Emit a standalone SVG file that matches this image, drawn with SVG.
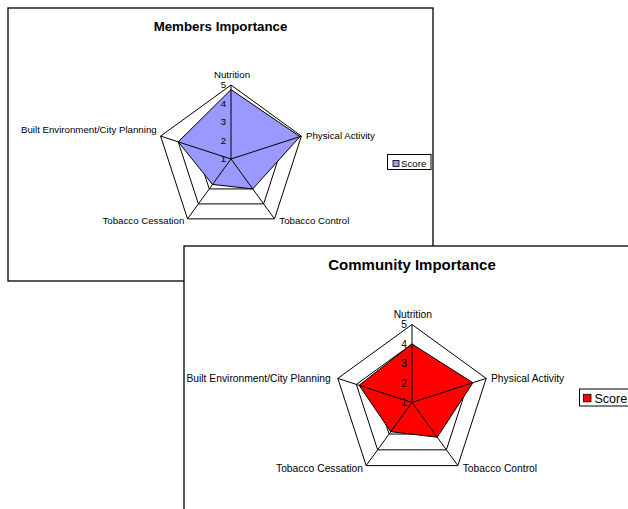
<svg xmlns="http://www.w3.org/2000/svg" width="628" height="509" viewBox="0 0 628 509">
<style>
.frame{fill:#fff;stroke:#000;stroke-width:1.3}
.ring{fill:none;stroke:#000;stroke-width:1}
.spoke{stroke:#000;stroke-width:1}
.s1{fill:#9999FF;stroke:#000;stroke-width:1}
.s2{fill:#FF0000;stroke:#000;stroke-width:1}
text{font-family:"Liberation Sans",Arial,sans-serif;fill:#000}
.t1{font-size:13.3px;font-weight:bold}
.t2{font-size:15px;font-weight:bold}
.l1{font-size:9.7px}
.l2{font-size:10.3px}
.v1{font-size:9.6px;text-anchor:end}
.v2{font-size:10.3px;text-anchor:end}
.leg{fill:#fff;stroke:#000;stroke-width:1}
.sw{stroke:#000;stroke-width:0.8}
</style>
<g id="chart-members">
<rect class="frame" x="8" y="8" width="425" height="273"/>
<text class="t1" x="220.5" y="30.5" text-anchor="middle">Members Importance</text>
<g id="members-grid">
<polygon class="ring" points="231,85 301.38,136.13 274.5,218.87 187.5,218.87 160.62,136.13"/>
<polygon class="ring" points="231,103.5 283.78,141.85 263.62,203.9 198.38,203.9 178.22,141.85"/>
<polygon class="ring" points="231,122 266.19,147.57 252.75,188.93 209.25,188.93 195.81,147.57"/>
<polygon class="ring" points="231,140.5 248.59,153.28 241.87,173.97 220.13,173.97 213.41,153.28"/>
</g>
<polygon id="members-series" class="s1" points="231,89.6 299.95,136.6 252.75,188.93 212.51,184.44 178.22,141.85"/>
<g id="members-spokes">
<line class="spoke" x1="231" y1="159" x2="231" y2="85"/>
<line class="spoke" x1="231" y1="159" x2="301.38" y2="136.13"/>
<line class="spoke" x1="231" y1="159" x2="274.5" y2="218.87"/>
<line class="spoke" x1="231" y1="159" x2="187.5" y2="218.87"/>
<line class="spoke" x1="231" y1="159" x2="160.62" y2="136.13"/>
</g>
<g id="members-values">
<text class="v1" x="226" y="162.4">1</text>
<text class="v1" x="226" y="143.9">2</text>
<text class="v1" x="226" y="125.4">3</text>
<text class="v1" x="226" y="106.9">4</text>
<text class="v1" x="226" y="88.4">5</text>
</g>
<g id="members-labels">
<text class="l1" x="232" y="78" text-anchor="middle">Nutrition</text>
<text class="l1" x="306" y="138.5">Physical Activity</text>
<text class="l1" x="279.3" y="224">Tobacco Control</text>
<text class="l1" x="184.3" y="224" text-anchor="end">Tobacco Cessation</text>
<text class="l1" x="156.7" y="133" text-anchor="end">Built Environment/City Planning</text>
</g>
<g id="members-legend">
<rect class="leg" x="387.5" y="154.5" width="43.5" height="15"/>
<rect class="sw" x="393" y="160.5" width="6" height="6" fill="#9999FF"/>
<text class="l1" x="401" y="166.5">Score</text>
</g>
</g>
<g id="chart-community">
<rect class="frame" x="184" y="246" width="460" height="280"/>
<text class="t2" x="412" y="270.2" text-anchor="middle">Community Importance</text>
<g id="community-grid">
<polygon class="ring" points="412,324.5 486.18,378.4 457.85,465.6 366.15,465.6 337.82,378.4"/>
<polygon class="ring" points="412,344 467.64,384.42 446.39,449.83 377.61,449.83 356.36,384.42"/>
<polygon class="ring" points="412,363.5 449.09,390.45 434.92,434.05 389.08,434.05 374.91,390.45"/>
<polygon class="ring" points="412,383 430.55,396.47 423.46,418.28 400.54,418.28 393.45,396.47"/>
</g>
<polygon id="community-series" class="s2" points="412,344 472.87,382.72 437.22,437.21 390.78,431.71 359.12,385.32"/>
<g id="community-spokes">
<line class="spoke" x1="412" y1="402.5" x2="412" y2="324.5"/>
<line class="spoke" x1="412" y1="402.5" x2="486.18" y2="378.4"/>
<line class="spoke" x1="412" y1="402.5" x2="457.85" y2="465.6"/>
<line class="spoke" x1="412" y1="402.5" x2="366.15" y2="465.6"/>
<line class="spoke" x1="412" y1="402.5" x2="337.82" y2="378.4"/>
</g>
<g id="community-values">
<text class="v2" x="407" y="406.2">1</text>
<text class="v2" x="407" y="386.7">2</text>
<text class="v2" x="407" y="367.2">3</text>
<text class="v2" x="407" y="347.7">4</text>
<text class="v2" x="407" y="328.2">5</text>
</g>
<g id="community-labels">
<text class="l2" x="412.8" y="317.5" text-anchor="middle">Nutrition</text>
<text class="l2" x="491" y="381.5">Physical Activity</text>
<text class="l2" x="462.7" y="471.5">Tobacco Control</text>
<text class="l2" x="363" y="471.5" text-anchor="end">Tobacco Cessation</text>
<text class="l2" x="330.7" y="381.5" text-anchor="end">Built Environment/City Planning</text>
</g>
<g id="community-legend">
<rect class="leg" x="579.5" y="389" width="60" height="17"/>
<rect class="sw" x="583.5" y="394.3" width="7.5" height="7.5" fill="#FF0000"/>
<text x="594.5" y="402.5" font-size="12.5px">Score</text>
</g>
</g>
</svg>
